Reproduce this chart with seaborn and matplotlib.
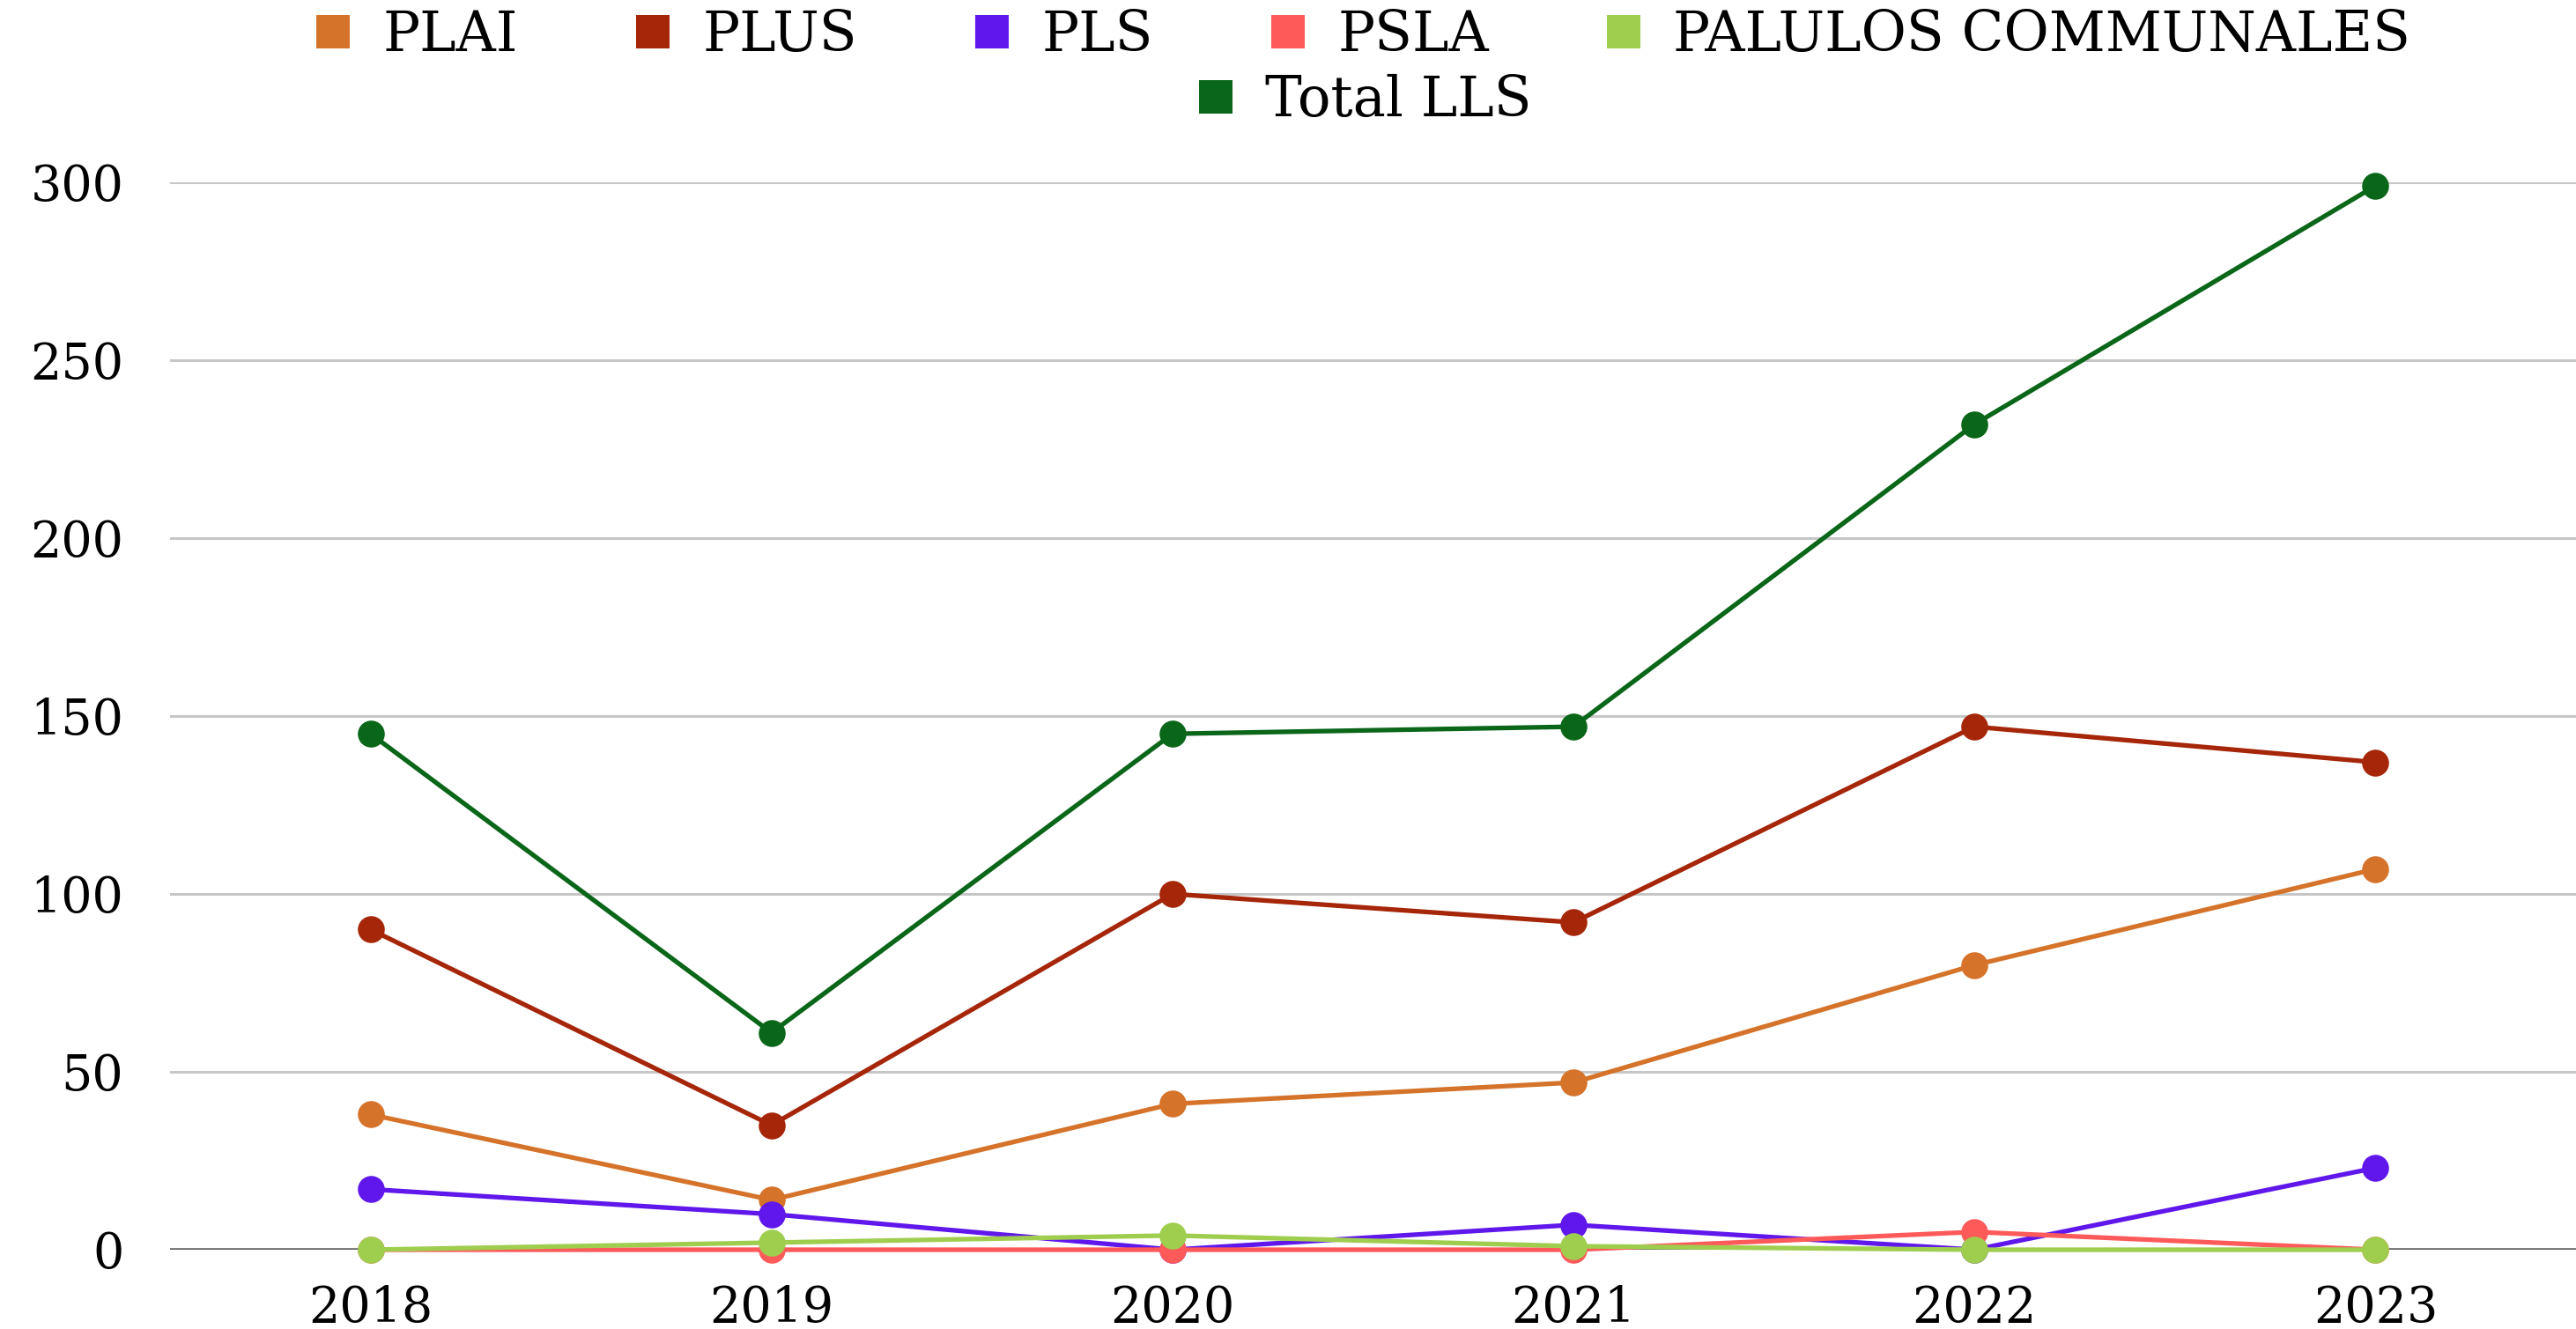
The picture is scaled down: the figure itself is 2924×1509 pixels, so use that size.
import matplotlib
matplotlib.use("Agg")
import matplotlib.pyplot as plt
from matplotlib.lines import Line2D
import seaborn as sns
import pandas as pd

years = ["2018", "2019", "2020", "2021", "2022", "2023"]
series_names = ["PLAI", "PLUS", "PLS", "PSLA", "PALULOS COMMUNALES", "Total LLS"]
plai = [38, 14, 41, 47, 80, 107]
plus = [90, 35, 100, 92, 147, 137]
pls = [17, 10, 0, 7, 0, 23]
psla = [0, 0, 0, 0, 5, 0]
palulos = [0, 2, 4, 1, 0, 0]
total = [145, 61, 145, 147, 232, 299]
colors = ["#D5732A", "#A62609", "#5F17EB", "#FF5A5A", "#9FCE4F", "#0A6618"]
y_ticks = [0, 50, 100, 150, 200, 250, 300]

values = [plai, plus, pls, psla, palulos, total]
rows = []
for name, vals in zip(series_names, values):
    for yr, v in zip(years, vals):
        rows.append({"year": yr, "value": v, "series": name})
df = pd.DataFrame(rows)

sns.set_theme(style="white")
plt.rcParams["font.family"] = ["DejaVu Serif"]
plt.rcParams["text.color"] = "black"
plt.rcParams["xtick.color"] = "black"
plt.rcParams["ytick.color"] = "black"

W, H = 2924, 1509
fig = plt.figure(figsize=(W / 100, H / 100), dpi=100)
ax = fig.add_axes([193 / W, 1 - 1419 / H, 1 - 193 / W, (1419 - 207) / H])

for name, col in zip(series_names, colors):
    sub = df[df["series"] == name]
    sns.pointplot(data=sub, x="year", y="value", order=years, color=col,
                  errorbar=None, markers="o", linestyles="-", ax=ax,
                  markersize=22, markeredgewidth=0, linewidth=3.8,
                  clip_on=False, zorder=3)

ax.set_xlim(-0.5, len(years) - 0.5)
ax.set_ylim(0, 300)
ax.set_yticks(y_ticks)
ax.set_yticklabels([str(t) for t in y_ticks])
ax.set_xlabel("")
ax.set_ylabel("")
for s in ax.spines.values():
    s.set_visible(False)
ax.grid(axis="y", color="#C6C6C6", linewidth=2.2)
ax.grid(axis="x", visible=False)
ax.axhline(0, color="#666666", linewidth=2.6, zorder=2)
ax.tick_params(axis="y", length=0, pad=38, labelsize=40, labelcolor="black")
ax.tick_params(axis="x", length=0, pad=28, labelsize=40, labelcolor="black")

handles = [Line2D([], [], linestyle="none", marker="s", markersize=27,
                  markerfacecolor=c, markeredgewidth=0) for c in colors]
kw = dict(frameon=False, fontsize=45, handlelength=0.6, handletextpad=0.6,
          columnspacing=2.15, borderpad=0, borderaxespad=0, labelcolor="black")
leg1 = fig.legend(handles[:5], series_names[:5], ncol=5, loc="center",
                  bbox_to_anchor=(1548 / W, 1 - 40 / H), **kw)
leg2 = fig.legend(handles[5:], series_names[5:], ncol=1, loc="center",
                  bbox_to_anchor=(1550 / W, 1 - 114 / H), **kw)

fig.savefig("out.png", dpi=100, facecolor="white")
